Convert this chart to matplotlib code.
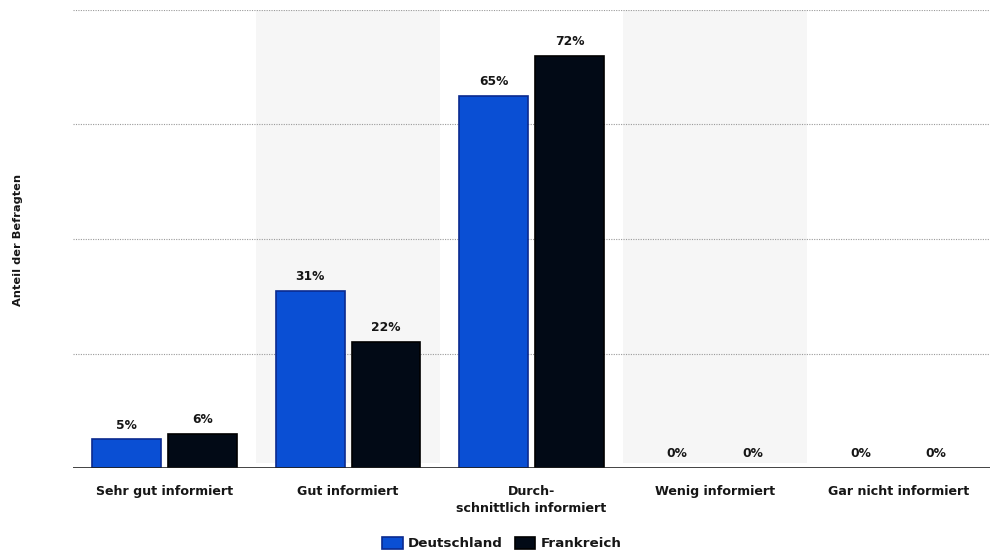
import matplotlib
matplotlib.use("Agg")
import matplotlib.pyplot as plt
import numpy as np

categories = ["Sehr gut informiert", "Gut informiert", "Durch-\nschnittlich informiert",
              "Wenig informiert", "Gar nicht informiert"]
series_names = ["Deutschland", "Frankreich"]
deutschland = [5, 31, 65, 0, 0]
frankreich = [6, 22, 72, 0, 0]
value_labels_de = ["5%", "31%", "65%", "0%", "0%"]
value_labels_fr = ["6%", "22%", "72%", "0%", "0%"]
y_ticks = [0, 20, 40, 60, 80]

plt.rcParams['font.family'] = ['DejaVu Sans']

fig = plt.figure(figsize=(9.9, 5.55), dpi=100)
ax = fig.add_axes([73/990, 1-468/555, (990-73)/990, (468-10)/555])

x = np.arange(len(categories))
w = 0.375
off = 0.207
blue = "#0a4fd4"
blue_edge = "#0b2a8f"
black = "#020a16"
txt = "#161616"

for i in range(len(categories)):
    if i % 2 == 1:
        ax.axvspan(i-0.5, i+0.5, ymin=0.01, ymax=1, color="#f6f6f6", zorder=0, lw=0)

for yv in y_ticks[1:]:
    ax.axhline(yv, color="#9a9a9a", lw=0.8, ls=(0, (1, 1.2)), zorder=1)

lw_de = [1.2 if v > 0 else 0 for v in deutschland]
lw_fr = [1.2 if v > 0 else 0 for v in frankreich]
b1 = ax.bar(x-off, deutschland, w, color=blue, edgecolor=blue_edge, lw=lw_de, zorder=3, label=series_names[0])
b2 = ax.bar(x+off, frankreich, w, color=black, edgecolor="#000000", lw=lw_fr, zorder=3, label=series_names[1])

for bars, labs in ((b1, value_labels_de), (b2, value_labels_fr)):
    for r, lab in zip(bars, labs):
        ax.annotate(lab, (r.get_x()+r.get_width()/2, r.get_height()), xytext=(0, 5.5),
                    textcoords="offset points", ha="center", va="bottom", fontsize=8.8,
                    fontweight="bold", color=txt, zorder=4)

ax.axhline(0, color="#222222", lw=1.2, zorder=5)
ax.set_xlim(-0.5, 4.5)
ax.set_ylim(0, 80)
ax.set_yticks(y_ticks)
ax.set_yticklabels([])
ax.tick_params(axis='y', length=0)
ax.set_xticks(x)
ax.set_xticklabels(categories, fontsize=9.1, fontweight="bold", color=txt, linespacing=1.4)
ax.tick_params(axis='x', length=0, pad=12.5)
for s in ax.spines.values():
    s.set_visible(False)

fig.text(18/990, 1-240/555, "Anteil der Befragten", rotation=90, ha="center", va="center",
         fontsize=8.2, fontweight="bold", color=txt)

leg = fig.legend(handles=[b1, b2], labels=series_names, loc="center", bbox_to_anchor=(502/990, 11.5/555),
                 ncol=2, frameon=False, handlelength=1.5, handleheight=1.0,
                 handletextpad=0.4, columnspacing=0.9,
                 prop={"size": 9.7, "weight": "bold"})
for t in leg.get_texts():
    t.set_color(txt)

fig.savefig("out.png", dpi=100)
